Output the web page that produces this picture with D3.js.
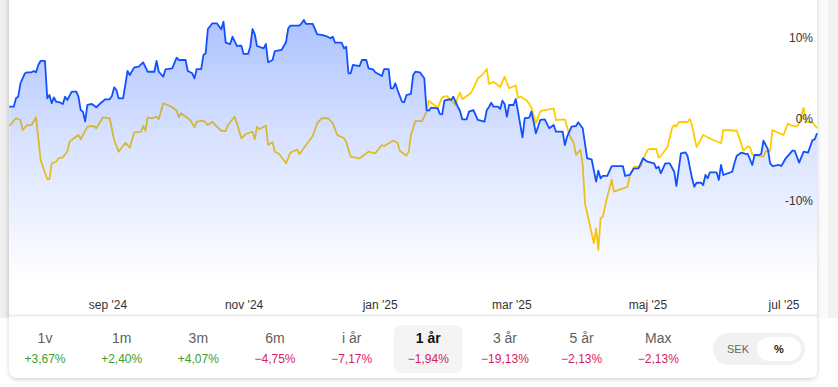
<!DOCTYPE html>
<html>
<head>
<meta charset="utf-8">
<script src="https://cdn.jsdelivr.net/npm/d3@7"></script>
<style>
  html, body { margin: 0; padding: 0; background: #ffffff; }
  svg { display: block; font-family: "Liberation Sans", Arial, sans-serif; }
</style>
</head>
<body>
<svg id="chart" width="838" height="387"></svg>
<script>
// ---------- DATA ----------
const baseDate = new Date(2024, 6, 19);   // first day of the 1-year window
const lastDay = 362;

// Blue series (the fund), % change, day offsets from baseDate
const blueDay = [0,2,3,4,5,7,8,10,11,12,13,14,16,17,18,19,20,21,23,24,25,26,28,30,31,32,33,34,35,37,39,41,43,45,46,47,48,49,51,53,54,56,58,60,62,65,66,67,69,70,73,75,76,79,80,82,83,84,86,87,88,89,91,93,95,96,97,99,100,102,104,105,107,108,109,110,111,114,115,116,118,119,122,124,125,126,130,131,132,133,136,138,140,142,144,145,146,149,150,151,152,153,154,157,158,160,161,163,164,167,168,170,171,172,173,174,176,177,178,180,181,182,184,186,187,188,189,192,193,194,195,197,198,199,201,202,203,205,206,208,210,213,214,215,216,217,219,220,221,222,223,224,226,227,228,230,231,233,234,235,236,238,240,242,244,245,248,249,250,252,254,255,257,259,261,263,264,265,266,268,270,275,276,278,280,282,284,286,289,290,291,292,294,296,298,299,301,303,304,306,307,308,310,311,312,313,314,317,318,319,320,322,324,325,326,328,330,331,333,334,336,337,338,340,341,342,345,346,348,351,352,354,356,358,360,361,362];
const blueVal = [1.51,1.51,2.54,2.74,4.38,5.61,5.73,5.73,5.89,5.73,6.63,7.12,7.12,2.54,2.94,1.93,2.66,2.12,2.00,1.84,2.74,2.33,3.35,3.35,2.74,1.10,0.90,-0.30,1.72,1.84,1.44,1.96,2.42,2.42,2.82,3.89,3.56,2.54,2.54,5.89,5.40,6.34,6.42,6.96,5.80,5.80,7.12,5.80,5.19,6.10,6.22,7.52,7.24,7.24,5.89,5.61,4.99,6.13,6.13,7.85,8.06,11.04,11.74,11.74,11.01,11.94,9.36,9.20,10.10,8.96,8.99,7.98,7.98,8.87,11.04,10.43,8.96,8.67,9.20,6.96,7.24,8.34,8.47,9.41,11.13,11.45,11.45,11.74,12.15,11.66,11.66,10.39,10.31,10.18,9.90,10.10,9.36,9.36,8.67,8.87,5.61,5.61,6.63,6.50,7.24,7.24,6.22,6.10,5.73,5.28,6.13,6.13,3.77,3.77,4.38,3.56,2.12,2.05,2.94,3.07,5.40,5.80,5.73,4.99,1.10,1.02,1.39,1.31,0.61,0.58,2.25,2.42,2.33,2.74,1.51,0.98,-0.04,-0.04,0.90,1.10,-0.12,-0.33,1.10,1.47,2.00,1.51,1.51,1.23,2.25,1.84,0.28,1.72,1.72,2.45,0.90,-2.25,0.09,0.16,0.90,-0.33,-1.75,-0.12,-0.04,-1.14,-0.74,-1.56,-1.56,-3.19,-2.17,-0.94,-0.86,-0.40,-1.14,-4.82,-4.94,-7.69,-6.34,-7.28,-6.99,-6.99,-5.77,-5.77,-6.99,-6.87,-6.05,-6.05,-4.82,-5.24,-5.44,-6.05,-5.85,-6.66,-5.44,-5.44,-6.47,-8.22,-4.21,-4.09,-4.54,-7.28,-8.31,-7.82,-7.82,-8.10,-6.87,-7.28,-6.54,-6.54,-7.48,-5.64,-6.87,-6.66,-6.47,-5.44,-4.54,-4.13,-4.29,-4.29,-5.64,-4.42,-4.42,-4.29,-2.66,-3.72,-5.44,-5.77,-5.64,-5.77,-4.82,-3.89,-3.89,-5.36,-4.01,-4.13,-2.58,-2.49,-1.75];

// Yellow series (benchmark), % change
const yellowDay = [0,3,5,6,8,10,12,14,15,17,18,19,21,22,24,26,27,29,31,32,35,38,39,42,45,47,49,52,54,56,59,60,61,62,64,66,67,69,71,73,75,76,77,80,81,82,83,84,87,89,91,93,95,97,98,101,102,104,106,109,110,111,112,115,116,118,119,121,124,126,129,130,133,136,138,140,143,145,147,150,151,153,157,161,164,167,168,172,174,175,178,179,180,182,185,187,188,191,192,193,194,196,198,200,201,202,203,205,207,208,210,212,214,215,217,220,222,224,227,228,229,232,234,236,238,244,245,249,251,253,254,256,257,258,260,262,263,264,265,266,268,270,271,277,278,280,283,284,286,287,290,291,292,295,297,298,299,300,304,305,306,308,311,315,319,320,326,327,329,331,332,333,338,339,341,342,345,347,349,350,353,354,356,357,360,362];
const yellowVal = [-0.86,0.09,-0.12,-1.35,-0.74,-0.74,0.21,-4.94,-5.85,-7.36,-7.36,-5.44,-5.24,-4.82,-4.70,-4.01,-2.79,-2.37,-1.96,-2.49,-0.94,-0.86,-1.14,0.21,0.09,-2.58,-4.01,-2.91,-3.52,-1.63,-1.56,-0.86,-1.44,0.21,0.09,0.28,0.00,1.93,1.72,1.44,1.02,0.21,0.70,0.09,-0.12,-0.53,-1.02,-0.33,-0.21,-0.74,-0.33,-0.94,-1.44,-1.47,-0.74,0.28,-0.53,-2.37,-1.84,-1.56,-2.49,-0.94,-1.26,-0.82,-3.19,-2.86,-4.01,-4.29,-5.44,-4.13,-3.74,-4.33,-3.19,-2.09,-0.53,0.09,0.09,-0.53,-1.96,-2.37,-2.79,-4.63,-4.82,-4.01,-4.21,-3.19,-3.31,-2.66,-2.91,-3.89,-4.50,-4.01,-1.96,-0.25,-0.25,0.90,2.25,1.60,1.31,2.00,2.66,2.82,2.33,1.72,2.66,3.23,2.42,2.82,3.23,3.77,4.99,5.40,6.13,4.29,4.58,3.93,5.19,3.77,4.11,2.58,2.76,2.27,1.41,-0.53,0.98,1.31,-0.12,-0.04,-1.96,-2.98,-4.42,-3.80,-5.64,-10.34,-12.80,-15.25,-13.41,-16.07,-12.18,-11.99,-9.53,-7.48,-8.92,-8.34,-7.08,-5.85,-5.83,-5.03,-3.80,-3.68,-3.68,-4.72,-4.54,-3.44,-1.14,-0.74,-0.94,-0.37,-0.37,0.00,-0.80,-3.44,-1.96,-2.52,-2.98,-1.35,-1.44,-2.17,-3.87,-3.35,-3.44,-4.36,-4.60,-3.93,-3.93,-1.35,-1.72,-1.96,-0.55,-0.74,-0.94,-0.49,1.37,-0.31,-0.43,-1.10];

const yTicks = [10, 0, -10];
const yFloor = -20;
const xTickDates = ["2024-09-01", "2024-11-01", "2025-01-01", "2025-03-01", "2025-05-01", "2025-07-01"];
const xTickLabels = ["sep '24", "nov '24", "jan '25", "mar '25", "maj '25", "jul '25"];

const periods = ["1v", "1m", "3m", "6m", "i år", "1 år", "3 år", "5 år", "Max"];
const changes = ["+3,67%", "+2,40%", "+4,07%", "\u22124,75%", "\u22127,17%", "\u22121,94%", "\u221219,13%", "\u22122,13%", "\u22122,13%"];
const selectedPeriod = "1 år";
const toggleLabels = ["SEK", "%"];

// ---------- DRAW ----------
const svg = d3.select("#chart");
const W = 838, H = 387;
const defs = svg.append("defs");

// side shading
const sideGrad = defs.append("linearGradient").attr("id", "sideGrad").attr("x1", 0).attr("x2", 1);
sideGrad.append("stop").attr("offset", 0).attr("stop-color", "#f3f3f3");
sideGrad.append("stop").attr("offset", 1).attr("stop-color", "#e7e7e7");
svg.append("rect").attr("x", 0).attr("y", 0).attr("width", 9).attr("height", 318).attr("fill", "url(#sideGrad)");
svg.append("rect").attr("x", 817).attr("y", 0).attr("width", 11).attr("height", 318).attr("fill", "#fbfbfb");
svg.append("rect").attr("x", 828).attr("y", 0).attr("width", 10).attr("height", 318).attr("fill", "#f2f2f2");

// card
const shadow = defs.append("filter").attr("id", "cardShadow").attr("x", "-5%").attr("y", "-5%").attr("width", "110%").attr("height", "115%");
shadow.append("feDropShadow").attr("dx", 0).attr("dy", 1.5).attr("stdDeviation", 2).attr("flood-color", "#000").attr("flood-opacity", 0.18);
svg.append("rect").attr("x", 9).attr("y", -20).attr("width", 808).attr("height", 398)
  .attr("rx", 8).attr("fill", "#ffffff").attr("filter", "url(#cardShadow)");

// scales
const x = d3.scaleTime()
  .domain([baseDate, d3.timeDay.offset(baseDate, lastDay)])
  .range([9.3, 817]);
const y = d3.scaleLinear().domain([-10, 10]).range([200.5, 37.5]);

const blue = blueDay.map((d, i) => ({ date: d3.timeDay.offset(baseDate, d), v: blueVal[i] }));
const yellow = yellowDay.map((d, i) => ({ date: d3.timeDay.offset(baseDate, d), v: yellowVal[i] }));

// gradient for area
const areaGrad = defs.append("linearGradient").attr("id", "areaGrad")
  .attr("gradientUnits", "userSpaceOnUse").attr("x1", 0).attr("x2", 0)
  .attr("y1", y(12.2)).attr("y2", y(yFloor));
areaGrad.append("stop").attr("offset", 0).attr("stop-color", "#3c6eff").attr("stop-opacity", 0.42);
areaGrad.append("stop").attr("offset", 0.45).attr("stop-color", "#3c6eff").attr("stop-opacity", 0.2);
areaGrad.append("stop").attr("offset", 1).attr("stop-color", "#3c6eff").attr("stop-opacity", 0.0);

const line = d3.line().x(d => x(d.date)).y(d => y(d.v));
const area = d3.area().x(d => x(d.date)).y0(y(yFloor)).y1(d => y(d.v));

svg.append("path").datum(yellow).attr("d", line)
  .attr("fill", "none").attr("stroke", "#ffcc00").attr("stroke-width", 1.8)
  .attr("stroke-linejoin", "round");
svg.append("path").datum(blue).attr("d", area).attr("fill", "url(#areaGrad)");
svg.append("path").datum(blue).attr("d", line)
  .attr("fill", "none").attr("stroke", "#1150ff").attr("stroke-width", 1.8)
  .attr("stroke-linejoin", "round");

// y axis (right side labels)
const yAxis = d3.axisLeft(y).tickValues(yTicks).tickFormat(d => d + "%").tickSize(0).tickPadding(0);
const gy = svg.append("g").attr("transform", "translate(813,0)").call(yAxis);
gy.select(".domain").remove();
gy.selectAll("text").attr("fill", "#333").style("font-size", "12px")
  .style("font-family", "'Liberation Sans', Arial, sans-serif");

// x axis
const xAxis = d3.axisBottom(x).tickValues(xTickDates.map(s => d3.timeParse("%Y-%m-%d")(s)))
  .tickFormat((d, i) => xTickLabels[i]).tickSize(0).tickPadding(0);
const gx = svg.append("g").attr("transform", "translate(0,300.8)").call(xAxis);
gx.select(".domain").remove();
gx.selectAll("text").attr("fill", "#333").style("font-size", "12px")
  .style("font-family", "'Liberation Sans', Arial, sans-serif");

// separator
svg.append("line").attr("x1", 9).attr("x2", 817).attr("y1", 315.5).attr("y2", 315.5)
  .attr("stroke", "#ececec").attr("stroke-width", 2);

// period buttons
const px = d3.scalePoint().domain(periods).range([45, 658.3]);
svg.append("rect").attr("x", px(selectedPeriod) - 34.5).attr("y", 325).attr("width", 69).attr("height", 48)
  .attr("rx", 8).attr("fill", "#f4f4f4");

const pg = svg.append("g");
pg.selectAll("text.lbl").data(periods).join("text").attr("class", "lbl")
  .attr("x", d => px(d)).attr("y", 343.3).attr("text-anchor", "middle")
  .style("font-size", "14px")
  .style("font-weight", d => d === selectedPeriod ? "700" : "400")
  .attr("fill", d => d === selectedPeriod ? "#111" : "#5e5e5e")
  .text(d => d);
pg.selectAll("text.chg").data(periods).join("text").attr("class", "chg")
  .attr("x", d => px(d)).attr("y", 363.3).attr("text-anchor", "middle")
  .style("font-size", "12px")
  .attr("fill", (d, i) => changes[i].startsWith("+") ? "#3f9b2c" : "#d4215f")
  .text((d, i) => changes[i]);

// toggle
svg.append("rect").attr("x", 713).attr("y", 333).attr("width", 92).attr("height", 32).attr("rx", 16).attr("fill", "#f1f1f1");
svg.append("rect").attr("x", 757).attr("y", 337).attr("width", 44).attr("height", 24).attr("rx", 12).attr("fill", "#ffffff");
svg.append("text").attr("x", 738).attr("y", 353).attr("text-anchor", "middle")
  .style("font-size", "11px").attr("fill", "#666").text(toggleLabels[0]);
svg.append("text").attr("x", 779).attr("y", 353).attr("text-anchor", "middle")
  .style("font-size", "11px").style("font-weight", "700").attr("fill", "#222").text(toggleLabels[1]);
</script>
</body>
</html>
